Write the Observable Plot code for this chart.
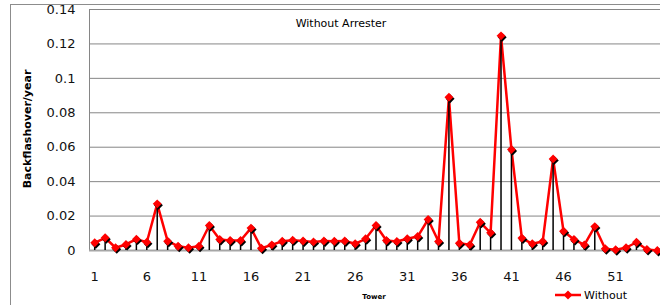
<!DOCTYPE html>
<html>
<head>
<meta charset="utf-8">
<script src="https://cdn.jsdelivr.net/npm/d3@7"></script>
<script src="https://cdn.jsdelivr.net/npm/@observablehq/plot@0.6"></script>
<style>
  html, body { margin: 0; padding: 0; background: #fff; overflow: hidden; }
  #wrap { position: relative; width: 660px; height: 305px; overflow: hidden; font-family: "DejaVu Sans", sans-serif; }
  #border { position: absolute; left: 10px; top: 4px; width: 720px; height: 400px; border: 1px solid #8c8c8c; box-sizing: border-box; }
  #chart { position: absolute; left: 0; top: 0; }
  .lbl { position: absolute; white-space: nowrap; color: #000; }
  #title { left: 341px; top: 23px; transform: translate(-50%, -50%); font-size: 11px; }
  #ylab { left: 27px; top: 129px; transform: translate(-50%, -50%) rotate(-90deg); font-size: 11px; font-weight: bold; }
  #xlab { left: 374px; top: 297px; transform: translate(-50%, -50%); font-size: 7px; font-weight: bold; }
  #legend { left: 554px; top: 287px; height: 16px; display: flex; align-items: center; font-size: 11px; }
</style>
</head>
<body>
<div id="wrap">
  <div id="border"></div>
  <div id="chart"></div>
  <div class="lbl" id="title">Without Arrester</div>
  <div class="lbl" id="ylab">Backflashover/year</div>
  <div class="lbl" id="xlab">Tower</div>
  <div class="lbl" id="legend">
    <svg width="28" height="12" style="margin-right:2px">
      <line x1="1" y1="6" x2="27" y2="6" stroke="#ff0000" stroke-width="2.5"></line>
      <path d="M14,1.5 L18.5,6 L14,10.5 L9.5,6 Z" fill="#ff0000"></path>
    </svg>
    <span>Without</span>
  </div>
</div>
<script>
const towers = d3.range(1, 56);
const values = [
  0.0045, 0.0074, 0.0016, 0.0035, 0.0066, 0.0048, 0.0271, 0.0054, 0.0025, 0.0016,
  0.0025, 0.0145, 0.0064, 0.0058, 0.0058, 0.0130, 0.0013, 0.0033, 0.0054, 0.0060,
  0.0055, 0.0050, 0.0055, 0.0054, 0.0055, 0.0039, 0.0068, 0.0145, 0.0058, 0.0052,
  0.0068, 0.0081, 0.0180, 0.0052, 0.0890, 0.0042, 0.0033, 0.0164, 0.0103, 0.1247,
  0.0587, 0.0072, 0.0039, 0.0052, 0.0532, 0.0112, 0.0064, 0.0033, 0.0139, 0.0010,
  0.0004, 0.0016, 0.0048, 0.0006, 0.0000
];
const xTicks = [1, 6, 11, 16, 21, 26, 31, 36, 41, 46, 51];
const yTicks = [0, 0.02, 0.04, 0.06, 0.08, 0.1, 0.12, 0.14];
const gridTicks = [0.02, 0.04, 0.06, 0.08, 0.1, 0.12, 0.14];

const data = towers.map((t, i) => ({tower: t, value: values[i]}));

const chart = Plot.plot({
  width: 660,
  height: 305,
  marginLeft: 89,
  marginRight: 0,
  marginTop: 9,
  marginBottom: 55,
  style: {fontFamily: "DejaVu Sans, sans-serif", fontSize: "13px", background: "transparent", overflow: "visible"},
  x: {domain: [0.5, 55.5], range: [89, 662]},
  y: {domain: [0, 0.14], range: [250, 9]},
  marks: [
    Plot.ruleY(gridTicks, {stroke: "#868686", strokeWidth: 1}),
    Plot.ruleX([0.5], {y1: 0, y2: 0.14, stroke: "#868686", strokeWidth: 1}),
    Plot.ruleY([0], {stroke: "#a6a6a6", strokeWidth: 2}),
    Plot.axisX({ticks: xTicks, tickSize: 0, tickPadding: 21, tickFormat: d => String(d), label: null, fill: "#111"}),
    Plot.axisY({ticks: yTicks, tickSize: 0, tickPadding: 14, tickFormat: d => String(+d.toFixed(2)), label: null, fill: "#111"}),
    Plot.line(data, {x: "tower", y: "value", stroke: "#ff0000", strokeWidth: 2.5}),
    Plot.ruleX(data, {x: "tower", y1: 0, y2: "value", stroke: "#000", strokeWidth: 1.5}),
    Plot.dot(data, {x: "tower", y: "value", symbol: "diamond2", r: 4, fill: "#000", stroke: "none", dx: 1.2, dy: 1.5}),
    Plot.dot(data, {x: "tower", y: "value", symbol: "diamond2", r: 4, fill: "#ff0000", stroke: "none"})
  ]
});
document.getElementById("chart").appendChild(chart);
</script>
</body>
</html>
